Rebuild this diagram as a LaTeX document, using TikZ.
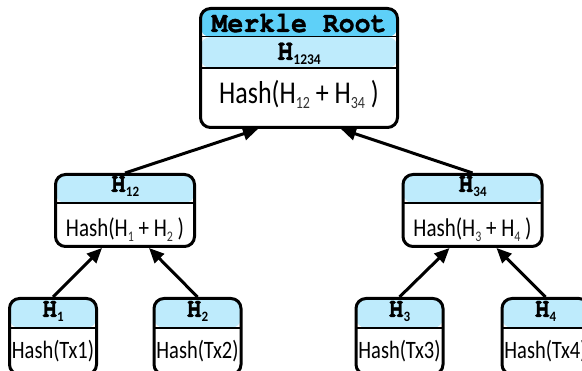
\documentclass[tikz,border=0pt]{standalone}
\usepackage{fontspec}
\setmainfont{Carlito}
\newfontfamily\monofnt{texgyrecursor-bold.otf}[FakeBold=1.2]
\usetikzlibrary{arrows.meta,calc}
\definecolor{hdrdark}{RGB}{94,208,248}
\definecolor{hdrlight}{RGB}{190,235,252}
\newcommand{\Hlab}[3]{\scalebox{1}[1.1]{{\monofnt\fontsize{#1}{#1}\selectfont H}\raisebox{-4.5pt}{\fontsize{#2}{#2}\selectfont\bfseries #3}}}
\newcommand{\Hs}[3]{H\raisebox{-#1}{\fontsize{#2}{#2}\selectfont\color{black!80} #3}}
\newcommand{\tall}[1]{\scalebox{1}[1.22]{#1}}
\tikzset{
  box/.style={draw, line width=3pt, rounded corners=10pt, inner sep=0pt, fill=white},
  leafbox/.style={box, minimum width=87pt, minimum height=76pt,
    path picture={\fill[hdrlight] (path picture bounding box.north west) rectangle ([yshift=-29.5pt]path picture bounding box.north east);
      \draw[line width=2.5pt] ([yshift=-29.5pt]path picture bounding box.north west) -- ([yshift=-29.5pt]path picture bounding box.north east);}},
  midbox/.style={box, minimum width=139pt, minimum height=72pt,
    path picture={\fill[hdrlight] (path picture bounding box.north west) rectangle ([yshift=-28.5pt]path picture bounding box.north east);
      \draw[line width=2.5pt] ([yshift=-28.5pt]path picture bounding box.north west) -- ([yshift=-28.5pt]path picture bounding box.north east);}},
  rootbox/.style={box, minimum width=197pt, minimum height=119pt,
    path picture={\fill[hdrdark] (path picture bounding box.north west) rectangle ([yshift=-28.5pt]path picture bounding box.north east);
      \fill[hdrlight] ([yshift=-28.5pt]path picture bounding box.north west) rectangle ([yshift=-59.5pt]path picture bounding box.north east);
      \draw[line width=1pt] ([yshift=-28.5pt]path picture bounding box.north west) -- ([yshift=-28.5pt]path picture bounding box.north east);
      \draw[line width=2.5pt] ([yshift=-59.5pt]path picture bounding box.north west) -- ([yshift=-59.5pt]path picture bounding box.north east);}},
  txt/.style={anchor=base, inner sep=0pt},
  arr/.style={line width=3pt, -{Triangle[length=15pt,width=13pt]}},
}
\begin{document}
\begin{tikzpicture}[x=1pt,y=-1pt]
\useasboundingbox[fill=white] (0,0) rectangle (582,371);
% boxes
\node[rootbox] (root) at (299,68) {};
\node[midbox] (h12) at (125,210.5) {};
\node[midbox] (h34) at (472.5,210.5) {};
\node[leafbox] (h1) at (53,336.5) {};
\node[leafbox] (h2) at (197.5,336.5) {};
\node[leafbox] (h3) at (399.5,336.5) {};
\node[leafbox] (h4) at (545.5,336.5) {};
% texts
\node[txt] (rootTitle) at (299,32) {\scalebox{1}[1.1]{\monofnt\fontsize{26.5}{26.5}\selectfont Merkle Root}};
\node[txt] (rootH) at (299,60) {\Hlab{27}{13.5}{1234}};
\node[txt] (rootHash) at (299,104) {\tall{\fontsize{26}{26}\selectfont Hash(\Hs{4pt}{14}{12} + \Hs{4pt}{14}{34} )}};
\node[txt] (h12H) at (125,192) {\Hlab{25}{13}{12}};
\node[txt] (h12Hash) at (125,237) {\tall{\fontsize{21}{21}\selectfont Hash(\Hs{4pt}{12}{1} + \Hs{4pt}{12}{2} )}};
\node[txt] (h34H) at (472.5,192) {\Hlab{25}{13}{34}};
\node[txt] (h34Hash) at (472.5,237) {\tall{\fontsize{21}{21}\selectfont Hash(\Hs{4pt}{12}{3} + \Hs{4pt}{12}{4} )}};
\node[txt] (h1H) at (53,317) {\Hlab{25}{13}{1}};
\node[txt] (h1Hash) at (53,359) {\tall{\fontsize{20.5}{20.5}\selectfont Hash(Tx1)}};
\node[txt] (h2H) at (197.5,317) {\Hlab{25}{13}{2}};
\node[txt] (h2Hash) at (197.5,359) {\tall{\fontsize{20.5}{20.5}\selectfont Hash(Tx2)}};
\node[txt] (h3H) at (399.5,317) {\Hlab{25}{13}{3}};
\node[txt] (h3Hash) at (399.5,359) {\tall{\fontsize{20.5}{20.5}\selectfont Hash(Tx3)}};
\node[txt] (h4H) at (545.5,317) {\Hlab{25}{13}{4}};
\node[txt] (h4Hash) at (545.5,359) {\tall{\fontsize{20.5}{20.5}\selectfont Hash(Tx4)}};
% connectors
\draw[arr] (h12.north) -- ([xshift=-41pt]root.south);
\draw[arr] (h34.north) -- ([xshift=42pt]root.south);
\draw[arr] (h1.north) -- ([xshift=-23pt]h12.south);
\draw[arr] (h2.north) -- ([xshift=24pt]h12.south);
\draw[arr] (h3.north) -- ([xshift=-23pt]h34.south);
\draw[arr] (h4.north) -- ([xshift=24pt]h34.south);
\end{tikzpicture}
\end{document}
